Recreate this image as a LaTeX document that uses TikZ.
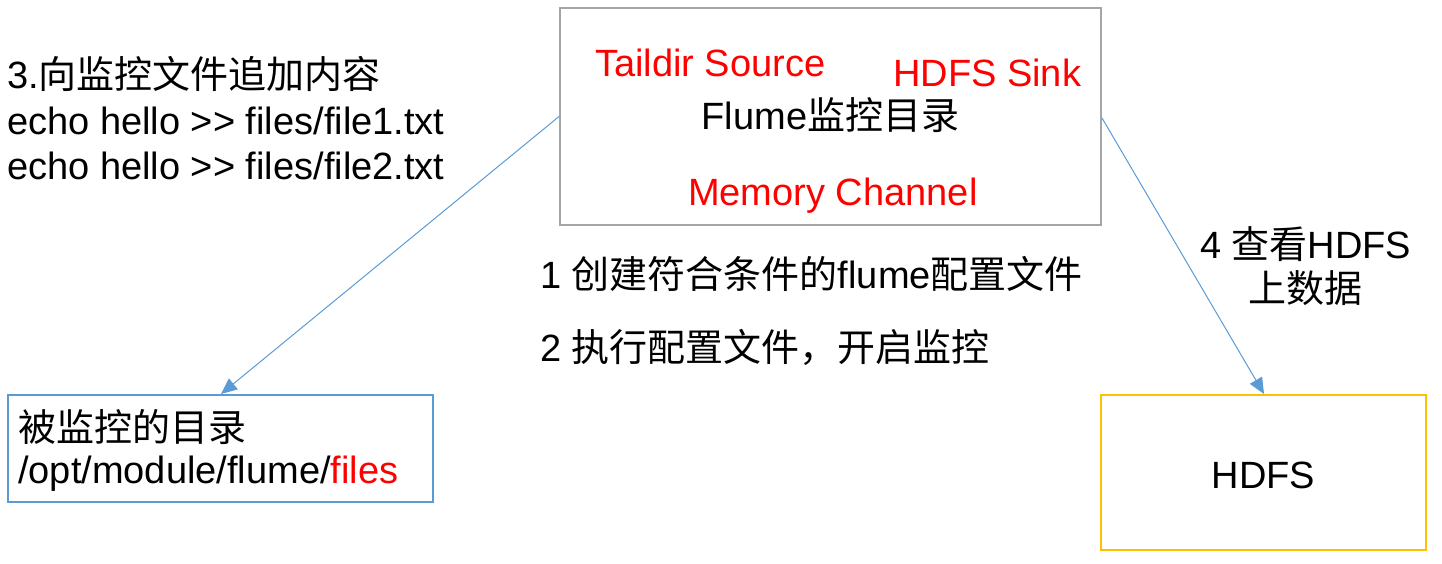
\documentclass[tikz,border=0pt]{standalone}
\usepackage{fontspec}
\setmainfont[Ligatures=TeXOff]{Liberation Sans}
\newfontfamily\cjk{Noto Sans CJK SC}
\usetikzlibrary{arrows.meta}
\definecolor{boxgray}{HTML}{A5A5A5}
\definecolor{boxblue}{HTML}{5B9BD5}
\definecolor{boxgold}{HTML}{FFC000}
\definecolor{txtred}{HTML}{FF0000}
\begin{document}
\begin{tikzpicture}[x=1pt,y=-1pt,
  lbl/.style={inner sep=0pt,anchor=base west,font=\fontsize{38}{44}\selectfont},
  redlbl/.style={lbl,text=txtred},
  framebox/.style={draw,line width=2pt,inner sep=0pt,fill=none},
  conn/.style={draw=boxblue,line width=1pt,-{Triangle[length=16pt,width=14pt]}}
]
\useasboundingbox (0,0) rectangle (1442,564);
% boxes
\node[framebox,draw=boxgray,minimum width=541pt,minimum height=217pt] (top) at (830.5,116.5) {};
\node[framebox,draw=boxblue,minimum width=425pt,minimum height=107pt] (lbox) at (220.5,448.5) {};
\node[framebox,draw=boxgold,minimum width=325pt,minimum height=155pt] (hdfs) at (1263.5,472.5) {};
% texts in top box
\node[redlbl] (src) at (595,77) {Taildir Source};
\node[redlbl] (sink) at (893,87) {HDFS Sink};
\node[lbl,anchor=base] (flume) at (830.5,130) {Flume{\cjk 监控目录}};
\node[redlbl] (chan) at (688,205) {Memory Channel};
% left texts
\node[lbl] (t3a) at (7,89) {3.{\cjk 向监控文件追加内容}};
\node[lbl] (t3b) at (7,135) {echo hello >> files/file1.txt};
\node[lbl] (t3c) at (7,180) {echo hello >> files/file2.txt};
% middle texts
\node[lbl] (s1) at (540,288) {1 {\cjk 创建符合条件的}flume{\cjk 配置文件}};
\node[lbl] (s2) at (540,361) {2 {\cjk 执行配置文件，开启监控}};
% right texts
\node[lbl] (s4a) at (1200,258) {4 {\cjk 查看}HDFS};
\node[lbl,anchor=base] (s4b) at (1305,302) {\cjk 上数据};
% box contents
\node[lbl] (la) at (18,441) {\cjk 被监控的目录};
\node[lbl] (lb) at (18,483) {/opt/module/flume/\textcolor{txtred}{files}};
\node[lbl,anchor=base] (hd) at (1263.5,488) {HDFS};
% connectors
\draw[conn] (top.west) -- ([xshift=214pt]lbox.north west);
\draw[conn] ([yshift=-1.5pt]top.east) -- ([xshift=164pt]hdfs.north west);
\end{tikzpicture}
\end{document}
